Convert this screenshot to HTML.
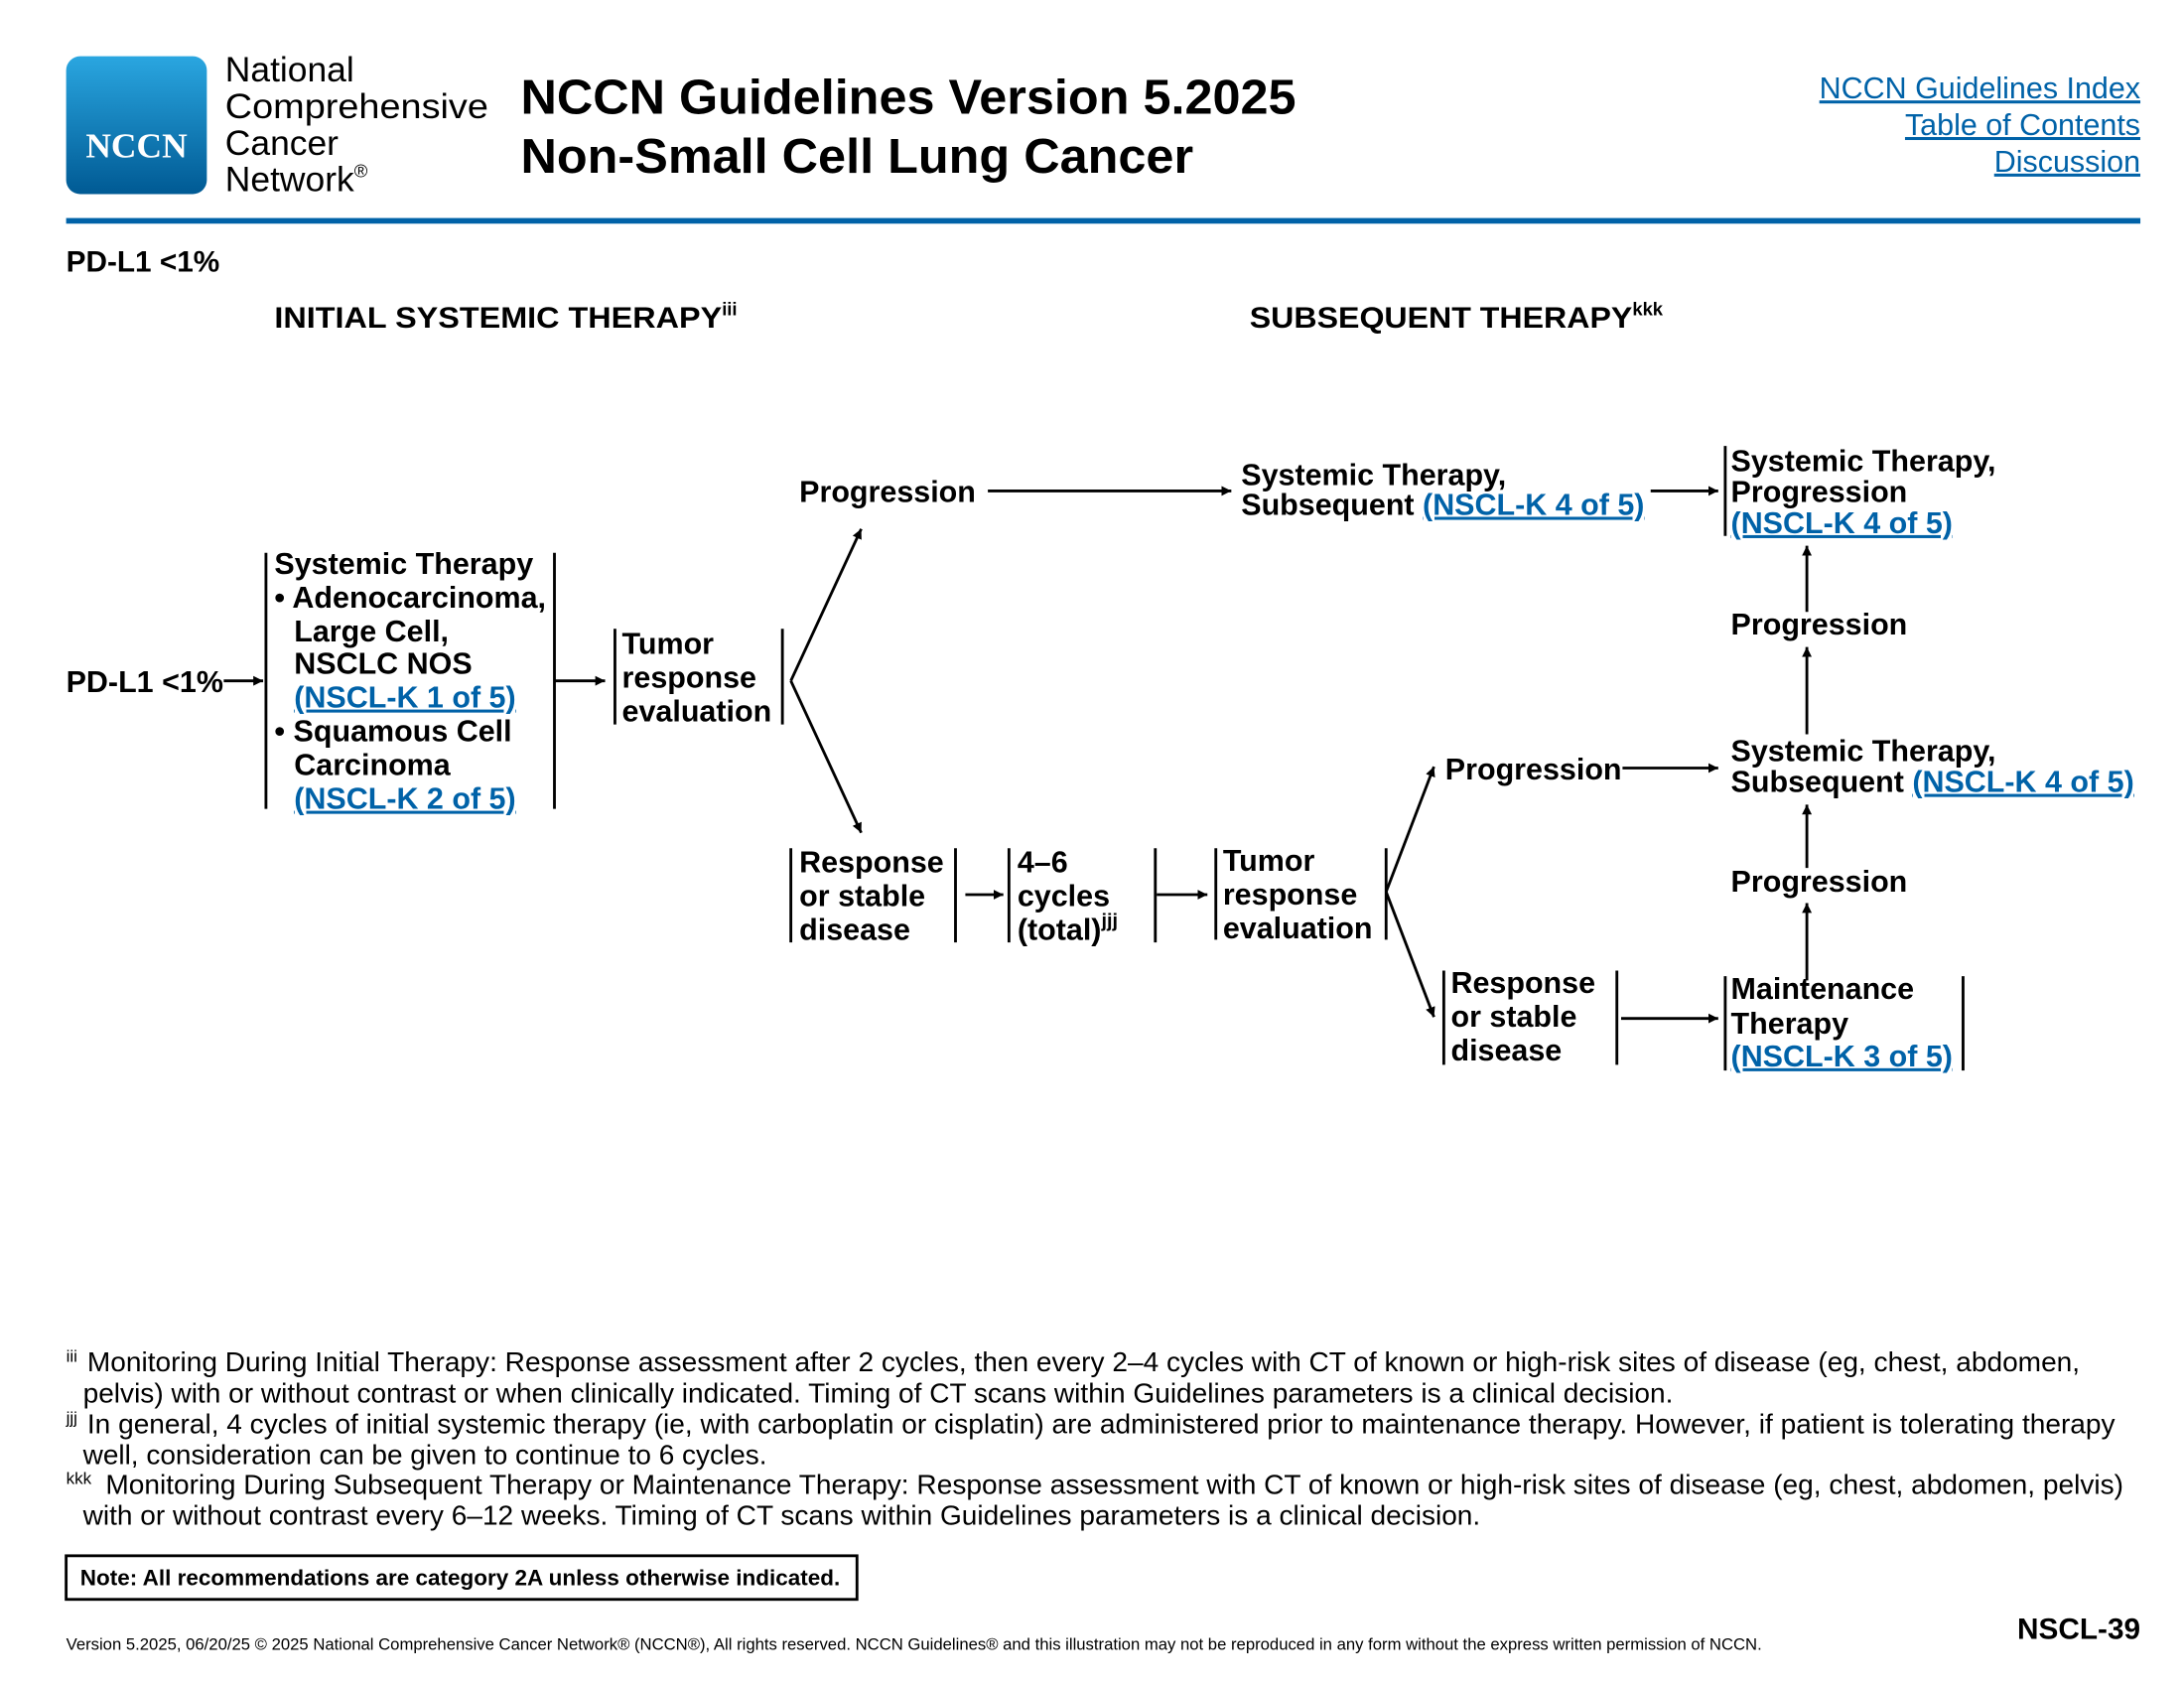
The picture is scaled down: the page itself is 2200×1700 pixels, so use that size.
<!DOCTYPE html>
<html><head><meta charset="utf-8"><style>
html,body{margin:0;padding:0;background:#fff;width:2200px;height:1700px;overflow:hidden}
svg{display:block}
text{font-family:"Liberation Sans",Arial,sans-serif;fill:#000}
.b{font-weight:bold;font-size:21.5px}
.l{fill:#0062a8;text-decoration:underline}
</style></head><body>
<svg width="2200" height="1700" viewBox="0 0 1552 1200" preserveAspectRatio="none" xmlns="http://www.w3.org/2000/svg">
<defs>
<linearGradient id="g" x1="0" y1="0" x2="0" y2="1"><stop offset="0" stop-color="#2aa6e0"/><stop offset="1" stop-color="#005a94"/></linearGradient>
<marker id="a" viewBox="0 0 10 10" refX="10" refY="5" markerWidth="7" markerHeight="7" orient="auto" markerUnits="userSpaceOnUse"><path d="M0,0 L10,5 L0,10 z" fill="#000"/></marker>
</defs>
<rect x="47" y="40" width="100" height="98" rx="10" fill="url(#g)"/>
<text x="97" y="112" text-anchor="middle" style="font-family:'Liberation Serif',serif;font-weight:bold;font-size:25px;fill:#fff">NCCN</text>
<g style="font-size:25px">
<text x="160" y="58">National</text>
<text x="160" y="84" textLength="187" lengthAdjust="spacingAndGlyphs">Comprehensive</text>
<text x="160" y="110">Cancer</text>
<text x="160" y="136">Network<tspan font-size="13" dy="-10">®</tspan></text>
</g>
<text x="370" y="81" style="font-weight:bold;font-size:34.5px" textLength="551" lengthAdjust="spacingAndGlyphs">NCCN Guidelines Version 5.2025</text>
<text x="370" y="123" style="font-weight:bold;font-size:34.5px" textLength="478" lengthAdjust="spacingAndGlyphs">Non-Small Cell Lung Cancer</text>
<g style="font-size:21.5px" text-anchor="end">
<text x="1521" y="70" class="l">NCCN Guidelines Index</text>
<text x="1521" y="96" class="l">Table of Contents</text>
<text x="1521" y="122" class="l">Discussion</text>
</g>
<rect x="47" y="155" width="1474" height="4" fill="#0062a8"/>
<text x="47" y="193" style="font-weight:bold;font-size:21px">PD-L1 &lt;1%</text>
<text x="195" y="233" style="font-weight:bold;font-size:21px"><tspan textLength="318" lengthAdjust="spacingAndGlyphs">INITIAL SYSTEMIC THERAPY</tspan><tspan font-size="13" dy="-9">iii</tspan></text>
<text x="888" y="233" style="font-weight:bold;font-size:21px"><tspan textLength="272" lengthAdjust="spacingAndGlyphs">SUBSEQUENT THERAPY</tspan><tspan font-size="13" dy="-9">kkk</tspan></text>

<g stroke="#000" stroke-width="2" fill="none">
<path d="M189,393V575 M394,393V575 M437,447V515 M556,447V515"/>
<path d="M562,603V670 M679,603V670 M717,603V670 M821,603V670 M864,603V668 M985,603V668"/>
<path d="M1226,317V381 M1026,690V757 M1149,690V757 M1226,694V761 M1395,694V761"/>
<g marker-end="url(#a)">
<path d="M159,484H187"/>
<path d="M394,484H430"/>
<path d="M562,484L612,376"/>
<path d="M562,484L612,592"/>
<path d="M702,349H875"/>
<path d="M1173,349H1221"/>
<path d="M1284,435V388"/>
<path d="M1284,522V460"/>
<path d="M686,636H713"/>
<path d="M822,636H858"/>
<path d="M985,634L1019,545"/>
<path d="M985,634L1019,723"/>
<path d="M1153,546H1221"/>
<path d="M1152,724H1221"/>
<path d="M1284,617V572"/>
<path d="M1284,697V642"/>
</g>
</g>

<g class="b">
<text x="47" y="492">PD-L1 &lt;1%</text>
<text x="195" y="408">Systemic Therapy</text>
<text x="195" y="432">• Adenocarcinoma,</text>
<text x="209" y="456">Large Cell,</text>
<text x="209" y="479">NSCLC NOS</text>
<text x="209" y="503" class="l">(NSCL-K 1 of 5)</text>
<text x="195" y="527">• Squamous Cell</text>
<text x="209" y="551">Carcinoma</text>
<text x="209" y="575" class="l">(NSCL-K 2 of 5)</text>
<text x="442" y="465">Tumor</text>
<text x="442" y="489">response</text>
<text x="442" y="513">evaluation</text>
<text x="568" y="357">Progression</text>
<text x="882" y="345">Systemic Therapy,</text>
<text x="882" y="366">Subsequent <tspan class="l">(NSCL-K 4 of 5)</tspan></text>
<text x="1230" y="335">Systemic Therapy,</text>
<text x="1230" y="357">Progression</text>
<text x="1230" y="379" class="l">(NSCL-K 4 of 5)</text>
<text x="1230" y="451">Progression</text>
<text x="1230" y="541">Systemic Therapy,</text>
<text x="1230" y="563">Subsequent <tspan class="l">(NSCL-K 4 of 5)</tspan></text>
<text x="1230" y="634">Progression</text>
<text x="1230" y="710">Maintenance</text>
<text x="1230" y="735">Therapy</text>
<text x="1230" y="758" class="l">(NSCL-K 3 of 5)</text>
<text x="568" y="620">Response</text>
<text x="568" y="644">or stable</text>
<text x="568" y="668">disease</text>
<text x="723" y="620">4–6</text>
<text x="723" y="644">cycles</text>
<text x="723" y="668">(total)<tspan font-size="14" dy="-9">jjj</tspan></text>
<text x="869" y="619">Tumor</text>
<text x="869" y="643">response</text>
<text x="869" y="667">evaluation</text>
<text x="1027" y="554">Progression</text>
<text x="1031" y="706">Response</text>
<text x="1031" y="730">or stable</text>
<text x="1031" y="754">disease</text>
</g>

<g style="font-size:19.5px">
<text x="47" y="975"><tspan font-size="12" dy="-7">iii</tspan><tspan dy="7" x="62" textLength="1416" lengthAdjust="spacingAndGlyphs">Monitoring During Initial Therapy: Response assessment after 2 cycles, then every 2–4 cycles with CT of known or high-risk sites of disease (eg, chest, abdomen,</tspan></text>
<text x="59" y="997" textLength="1130" lengthAdjust="spacingAndGlyphs">pelvis) with or without contrast or when clinically indicated. Timing of CT scans within Guidelines parameters is a clinical decision.</text>
<text x="47" y="1019"><tspan font-size="12" dy="-7">jjj</tspan><tspan dy="7" x="62" textLength="1441" lengthAdjust="spacingAndGlyphs">In general, 4 cycles of initial systemic therapy (ie, with carboplatin or cisplatin) are administered prior to maintenance therapy. However, if patient is tolerating therapy</tspan></text>
<text x="59" y="1041" textLength="486" lengthAdjust="spacingAndGlyphs">well, consideration can be given to continue to 6 cycles.</text>
<text x="47" y="1062"><tspan font-size="12" dy="-7">kkk</tspan><tspan dy="7" x="75" textLength="1434" lengthAdjust="spacingAndGlyphs">Monitoring During Subsequent Therapy or Maintenance Therapy: Response assessment with CT of known or high-risk sites of disease (eg, chest, abdomen, pelvis)</tspan></text>
<text x="59" y="1084" textLength="993" lengthAdjust="spacingAndGlyphs">with or without contrast every 6–12 weeks. Timing of CT scans within Guidelines parameters is a clinical decision.</text>
</g>
<rect x="47" y="1106" width="562" height="31" fill="none" stroke="#000" stroke-width="2"/>
<text x="57" y="1127" style="font-weight:bold;font-size:15.5px" textLength="540" lengthAdjust="spacingAndGlyphs">Note: All recommendations are category 2A unless otherwise indicated.</text>
<text x="47" y="1173" style="font-size:11.5px" textLength="1205" lengthAdjust="spacingAndGlyphs">Version 5.2025, 06/20/25 © 2025 National Comprehensive Cancer Network® (NCCN®), All rights reserved. NCCN Guidelines® and this illustration may not be reproduced in any form without the express written permission of NCCN.</text>
<text x="1521" y="1165" text-anchor="end" style="font-weight:bold;font-size:21px">NSCL-39</text>
</svg>
</body></html>
